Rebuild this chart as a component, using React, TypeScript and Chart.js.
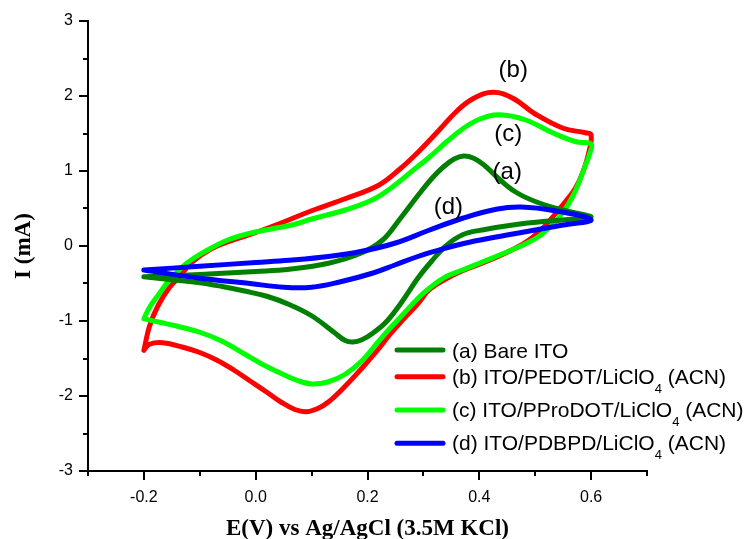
import React, { useEffect, useRef } from 'react';
import { Chart, registerables } from 'chart.js';

Chart.register(...registerables);

// ---------- data (E in V vs Ag/AgCl, I in mA) ----------
// (a) Bare ITO : anodic sweep -0.2 -> 0.6, then cathodic sweep 0.6 -> -0.2
const bareE = [-0.2, -0.1, 0.0, 0.06, 0.13, 0.19, 0.227, 0.257, 0.293, 0.315, 0.335, 0.355, 0.372, 0.39, 0.41, 0.43, 0.465, 0.505, 0.56, 0.6,
  0.57, 0.52, 0.46, 0.41, 0.37, 0.34, 0.315, 0.29, 0.26, 0.235, 0.21, 0.19, 0.174, 0.16, 0.14, 0.1, 0.06, 0.02, -0.02, -0.06, -0.1, -0.15, -0.2];
const bareI = [-0.41, -0.38, -0.34, -0.31, -0.23, -0.09, 0.08, 0.35, 0.70, 0.90, 1.05, 1.16, 1.20, 1.17, 1.07, 0.93, 0.72, 0.58, 0.46, 0.39,
  0.36, 0.33, 0.28, 0.22, 0.15, 0.0, -0.2, -0.43, -0.76, -1.0, -1.16, -1.25, -1.28, -1.26, -1.15, -0.93, -0.78, -0.67, -0.60, -0.54, -0.49, -0.45, -0.41];

// (b) ITO/PEDOT/LiClO4 (ACN)
const pedotE = [-0.2, -0.19, -0.175, -0.155, -0.135, -0.115, -0.08, -0.04, 0.0, 0.05, 0.10, 0.16, 0.22, 0.257, 0.293, 0.33, 0.36, 0.39, 0.425, 0.46, 0.50, 0.55, 0.59, 0.6,
  0.596, 0.586, 0.572, 0.555, 0.535, 0.519, 0.489, 0.459, 0.418, 0.37, 0.34, 0.311, 0.29, 0.265, 0.24, 0.22, 0.19, 0.16, 0.13, 0.11, 0.09, 0.07, 0.045, 0.02, -0.01, -0.04, -0.07, -0.1, -0.13, -0.166, -0.19, -0.2];
const pedotI = [-1.39, -1.07, -0.80, -0.56, -0.40, -0.22, -0.04, 0.08, 0.18, 0.32, 0.47, 0.63, 0.81, 1.02, 1.27, 1.56, 1.80, 1.97, 2.05, 1.97, 1.76, 1.57, 1.51, 1.48,
  1.25, 1.0, 0.77, 0.60, 0.42, 0.28, 0.08, -0.05, -0.19, -0.33, -0.44, -0.58, -0.77, -0.97, -1.18, -1.37, -1.63, -1.87, -2.08, -2.17, -2.21, -2.18, -2.08, -1.95, -1.80, -1.65, -1.52, -1.42, -1.35, -1.29, -1.31, -1.39];

// (c) ITO/PProDOT/LiClO4 (ACN)
const proE = [-0.2, -0.19, -0.175, -0.155, -0.125, -0.09, -0.05, -0.01, 0.03, 0.07, 0.10, 0.16, 0.21, 0.245, 0.28, 0.31, 0.34, 0.37, 0.40, 0.436, 0.483, 0.531, 0.573, 0.6,
  0.597, 0.59, 0.58, 0.567, 0.55, 0.53, 0.507, 0.483, 0.459, 0.43, 0.40, 0.37, 0.34, 0.311, 0.29, 0.265, 0.24, 0.22, 0.19, 0.16, 0.13, 0.10, 0.07, 0.04, 0.01, -0.02, -0.06, -0.1, -0.14, -0.17, -0.2];
const proI = [-0.97, -0.82, -0.66, -0.46, -0.24, -0.07, 0.08, 0.17, 0.23, 0.29, 0.36, 0.48, 0.62, 0.79, 1.0, 1.18, 1.38, 1.56, 1.69, 1.75, 1.68, 1.51, 1.39, 1.36,
  1.22, 1.08, 0.88, 0.66, 0.45, 0.28, 0.13, 0.03, -0.05, -0.14, -0.23, -0.32, -0.41, -0.56, -0.70, -0.90, -1.10, -1.27, -1.53, -1.71, -1.81, -1.84, -1.78, -1.68, -1.57, -1.44, -1.27, -1.15, -1.07, -1.02, -0.97];

// (d) ITO/PDBPD/LiClO4 (ACN)
const dbpdE = [-0.2, -0.1, 0.0, 0.06, 0.13, 0.19, 0.25, 0.31, 0.37, 0.43, 0.475, 0.535, 0.6,
  0.55, 0.49, 0.43, 0.37, 0.33, 0.29, 0.25, 0.21, 0.15, 0.10, 0.05, -0.01, -0.1, -0.2];
const dbpdI = [-0.32, -0.27, -0.22, -0.19, -0.14, -0.07, 0.04, 0.21, 0.37, 0.49, 0.52, 0.47, 0.35,
  0.28, 0.20, 0.12, 0.03, -0.05, -0.14, -0.25, -0.36, -0.48, -0.55, -0.55, -0.50, -0.43, -0.32];

const seriesLabels = [
  '(a) Bare ITO',
  '(b) ITO/PEDOT/LiClO₄ (ACN)',
  '(c) ITO/PProDOT/LiClO₄ (ACN)',
  '(d) ITO/PDBPD/LiClO₄ (ACN)',
];
const seriesColors = ['#008000', '#FF0000', '#00FF00', '#0000FF'];
const seriesDrawOrder = [1, 3, 2, 0];

// curve tags placed near the peaks
const peakTags = ['(a)', '(b)', '(c)', '(d)'];
const peakTagE = [0.45, 0.4607, 0.4518, 0.3446];
const peakTagI = [0.984, 2.337, 1.484, 0.517];

const xAxisTitle = 'E(V) vs Ag/AgCl (3.5M KCl)';
const yAxisTitle = 'I (mA)';

const SANS = '"Liberation Sans", Arial, Helvetica, sans-serif';
const SERIF = '"Liberation Serif", "Times New Roman", serif';

const seriesE = [bareE, pedotE, proE, dbpdE];
const seriesI = [bareI, pedotI, proI, dbpdI];

const decorPlugin = {
  id: 'decor',
  afterDraw(chart: any) {
    const { ctx, chartArea, scales } = chart;
    const xs = scales.x;
    const ys = scales.y;
    ctx.save();
    // tick marks (major + minor), outward
    ctx.strokeStyle = '#000';
    ctx.lineWidth = 2;
    xs.ticks.forEach((t: any) => {
      const px = Math.round(xs.getPixelForValue(t.value));
      const major = Math.abs(Math.round(t.value * 10)) % 2 === 0;
      ctx.beginPath();
      ctx.moveTo(px, chartArea.bottom);
      ctx.lineTo(px, chartArea.bottom + (major ? 9 : 5));
      ctx.stroke();
    });
    ys.ticks.forEach((t: any) => {
      const py = Math.round(ys.getPixelForValue(t.value));
      const major = Math.abs(Math.round(t.value * 2)) % 2 === 0;
      ctx.beginPath();
      ctx.moveTo(chartArea.left, py);
      ctx.lineTo(chartArea.left - (major ? 9 : 5), py);
      ctx.stroke();
    });

    // peak tags
    ctx.fillStyle = '#000';
    ctx.font = `24px ${SANS}`;
    ctx.textAlign = 'center';
    ctx.textBaseline = 'middle';
    peakTags.forEach((s, i) => {
      ctx.fillText(s, xs.getPixelForValue(peakTagE[i]), ys.getPixelForValue(peakTagI[i]));
    });

    // legend (inside plot, lower right)
    const lx0 = chartArea.left + 309;
    const lx1 = chartArea.left + 355;
    const tx = chartArea.left + 364;
    const rowOffsets = [329, 355.7, 389, 422.3];
    ctx.textAlign = 'left';
    ctx.textBaseline = 'alphabetic';
    seriesLabels.forEach((label, i) => {
      const y = chartArea.top + rowOffsets[i];
      ctx.strokeStyle = seriesColors[i];
      ctx.lineWidth = 5;
      ctx.lineCap = 'round';
      ctx.beginPath();
      ctx.moveTo(lx0, y);
      ctx.lineTo(lx1, y);
      ctx.stroke();
      const parts = label.split('₄');
      const base = y + (i === 0 ? 8 : 7);
      let x = tx;
      ctx.fillStyle = '#000';
      parts.forEach((p, k) => {
        ctx.font = `21px ${SANS}`;
        ctx.fillText(p, x, base);
        x += ctx.measureText(p).width;
        if (k < parts.length - 1) {
          ctx.font = `13px ${SANS}`;
          ctx.fillText('4', x, base + 9);
          x += ctx.measureText('4').width;
        }
      });
    });
    ctx.restore();
  },
};

export default function App() {
  const canvasRef = useRef<HTMLCanvasElement | null>(null);

  useEffect(() => {
    const canvas = canvasRef.current;
    if (!canvas) return;
    const datasets = seriesLabels.map((label, i) => ({
      label,
      data: seriesE[i].map((e, k) => ({ x: e, y: seriesI[i][k] })),
      borderColor: seriesColors[i],
      backgroundColor: seriesColors[i],
      borderWidth: 5,
      pointRadius: 0,
      tension: 0.4,
      fill: false,
      order: seriesDrawOrder[i],
      borderJoinStyle: 'round' as const,
      borderCapStyle: 'round' as const,
    }));
    const chart = new Chart(canvas, {
      type: 'line',
      data: { datasets },
      options: {
        responsive: false,
        animation: false,
        devicePixelRatio: 1,
        layout: { padding: { left: 0, top: 21, right: 104, bottom: 0 } },
        plugins: { legend: { display: false }, tooltip: { enabled: false } },
        scales: {
          x: {
            type: 'linear',
            min: -0.3,
            max: 0.7,
            afterFit: (s: any) => { s.height = 68; s.paddingLeft = 0; s.paddingRight = 0; },
            grid: { display: false, drawTicks: false },
            border: { display: true, color: '#000', width: 2 },
            ticks: {
              stepSize: 0.1,
              autoSkip: false,
              maxRotation: 0,
              padding: 17,
              color: '#000',
              font: { family: SANS, size: 16 },
              callback: (v: any) => {
                const n = Math.round(Number(v) * 10);
                return Math.abs(n) % 2 === 0 ? (n / 10).toFixed(1) : '';
              },
            },
            title: {
              display: true,
              text: xAxisTitle,
              color: '#000',
              font: { family: SERIF, size: 23, weight: 'bold', lineHeight: 0.87 },
              padding: 0,
            },
          },
          y: {
            type: 'linear',
            min: -3,
            max: 3,
            afterFit: (s: any) => { s.width = 88; s.paddingTop = 0; s.paddingBottom = 0; },
            grid: { display: false, drawTicks: false },
            border: { display: true, color: '#000', width: 2 },
            ticks: {
              stepSize: 0.5,
              autoSkip: false,
              padding: 15,
              color: '#000',
              font: { family: SANS, size: 16 },
              callback: (v: any) => {
                const n = Number(v);
                return Number.isInteger(n) ? String(n) : '';
              },
            },
            title: {
              display: true,
              text: yAxisTitle,
              color: '#000',
              font: { family: SERIF, size: 23, weight: 'bold', lineHeight: 1.2 },
              padding: { top: 10, bottom: 0 },
            },
          },
        },
      },
      plugins: [decorPlugin],
    });
    return () => chart.destroy();
  }, []);

  return (
    <div style={{ position: 'absolute', left: 0, top: 0, width: 751, height: 539, background: '#fff' }}>
      <canvas ref={canvasRef} width={751} height={539} style={{ display: 'block' }} />
    </div>
  );
}
